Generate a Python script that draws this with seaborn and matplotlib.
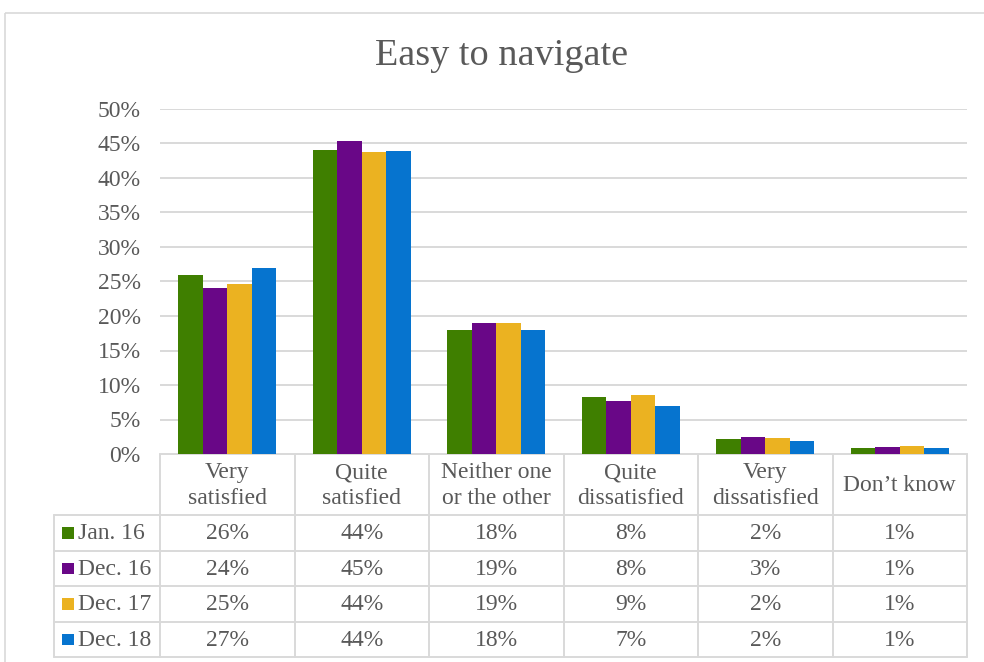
import matplotlib
matplotlib.use("Agg")
import matplotlib.pyplot as plt
from matplotlib.patches import Rectangle
import seaborn as sns
import pandas as pd

# Survey answers: "Easy to navigate"
categories = ["Very\nsatisfied", "Quite\nsatisfied", "Neither one\nor the other",
              "Quite\ndissatisfied", "Very\ndissatisfied", "Don\u2019t know"]
periods = ["Jan. 16", "Dec. 16", "Dec. 17", "Dec. 18"]
jan16 = [26.0, 44.0, 18.0, 8.3, 2.2, 0.9]
dec16 = [24.0, 45.3, 19.0, 7.7, 2.5, 1.0]
dec17 = [24.6, 43.7, 19.0, 8.6, 2.3, 1.2]
dec18 = [26.9, 43.9, 17.9, 6.9, 1.9, 0.8]
series = [jan16, dec16, dec17, dec18]
colors = ["#3F7F00", "#690787", "#EBB221", "#0674CF"]
yticks = list(range(0, 51, 5))

rows = []
for p, vals in zip(periods, series):
    for c, v in zip(categories, vals):
        rows.append({"category": c, "period": p, "value": v})
df = pd.DataFrame(rows)

sns.set_theme(style="white")
plt.rcParams["font.family"] = ["Liberation Serif", "DejaVu Serif"]
TXT = "#595959"
GRID = "#D9D9D9"
FS = 17

W, H = 984, 662
fig = plt.figure(figsize=(W / 100, H / 100), dpi=100)
fig.patch.set_facecolor("white")

# plot area in pixel terms
L, R, T, B = 160, 967, 109, 454
ax = fig.add_axes([L / W, 1 - B / H, (R - L) / W, (B - T) / H])
sns.barplot(data=df, x="category", y="value", hue="period", palette=colors,
            order=categories, hue_order=periods, width=0.727, gap=0,
            saturation=1, linewidth=0, ax=ax, legend=False, zorder=3)
ax.set_ylim(0, 50)
ax.set_xlim(-0.5, len(categories) - 0.5)
ax.set_yticks(yticks)
ax.set_yticklabels([f"{t}%" for t in yticks], fontsize=FS, color=TXT)
ax.tick_params(axis="y", length=0, pad=14)
ax.tick_params(axis="x", length=0, labelbottom=False)
ax.set_xlabel("")
ax.set_ylabel("")
for s in ax.spines.values():
    s.set_visible(False)
ax.yaxis.grid(True, color=GRID, linewidth=1.4, zorder=0)
ax.set_axisbelow(True)

# overlay in pixel coordinates for the frame, title and data table
ov = fig.add_axes([0, 0, 1, 1], zorder=-1)
ov.set_xlim(0, W)
ov.set_ylim(H, 0)
ov.axis("off")
ov.add_patch(Rectangle((5, 13), W + 20, H + 20, fill=False, edgecolor=GRID, linewidth=1.2))
ov.text(502, 56, "Easy to navigate", ha="center", va="center",
        fontsize=27.5, color=TXT)

ncat = len(categories)
step = (R - L) / ncat
col_edges = [L + i * step for i in range(ncat + 1)]
row_edges = [515, 550.5, 586, 621.5, 657]
leg_left = 54
lw = 1.4
for x in col_edges:
    ov.plot([x, x], [B, row_edges[-1]], color=GRID, linewidth=lw)
ov.plot([leg_left, leg_left], [row_edges[0], row_edges[-1]], color=GRID, linewidth=lw)
ov.plot([L, R], [B, B], color=GRID, linewidth=lw)
for y in row_edges:
    ov.plot([leg_left, R], [y, y], color=GRID, linewidth=lw)

for i, c in enumerate(categories):
    ov.text(L + (i + 0.5) * step, (B + row_edges[0]) / 2 + 1, c, ha="center",
            va="center", fontsize=FS, color=TXT, linespacing=1.3)

for j, (p, vals, col) in enumerate(zip(periods, series, colors)):
    yc = (row_edges[j] + row_edges[j + 1]) / 2
    ov.add_patch(Rectangle((62, yc - 5.5), 11.5, 11.5, facecolor=col, edgecolor="none"))
    ov.text(78, yc + 1, p, ha="left", va="center", fontsize=FS, color=TXT)
    for i, v in enumerate(vals):
        ov.text(L + (i + 0.5) * step, yc + 1, f"{int(v + 0.5)}%", ha="center",
                va="center", fontsize=FS, color=TXT)

fig.savefig("out.png", dpi=100)
